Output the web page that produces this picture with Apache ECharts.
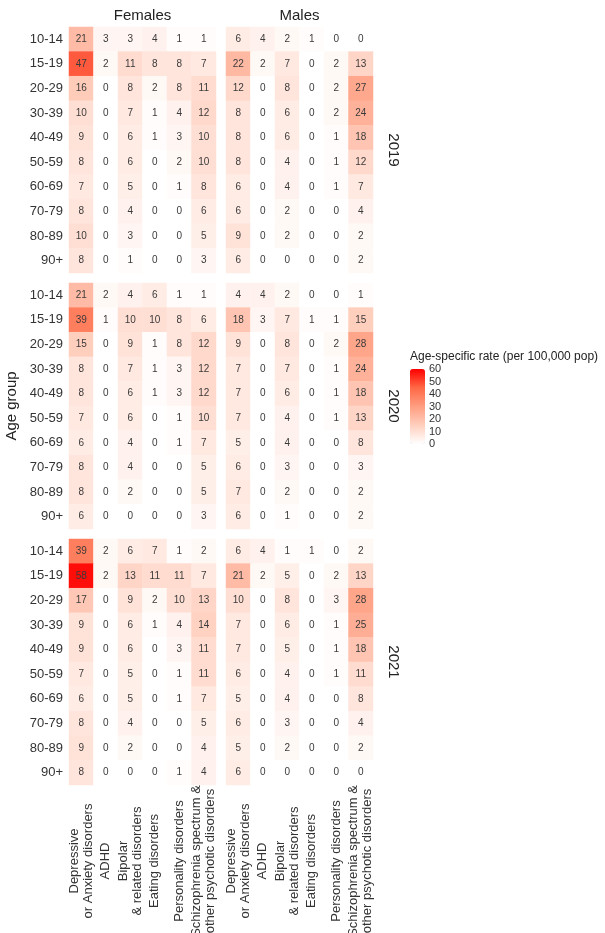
<!DOCTYPE html>
<html>
<head>
<meta charset="utf-8">
<script src="https://cdn.jsdelivr.net/npm/echarts@6/dist/echarts.min.js"></script>
<style>
  html, body { margin: 0; padding: 0; background: #fff; }
  #chart { width: 605px; height: 933px; }
</style>
</head>
<body>
<div id="chart"></div>
<script>
var ageGroups = ['10-14', '15-19', '20-29', '30-39', '40-49', '50-59', '60-69', '70-79', '80-89', '90+'];
var disorders = [
  'Depressive\nor Anxiety disorders',
  'ADHD',
  'Bipolar\n& related disorders',
  'Eating disorders',
  'Personality disorders',
  'Schizophrenia spectrum &\nother psychotic disorders'
];
var sexes = ['Females', 'Males'];
var years = ['2019', '2020', '2021'];

// one row per age group, one column per disorder
var females2019 = [
  [21, 3, 3, 4, 1, 1], [47, 2, 11, 8, 8, 7], [16, 0, 8, 2, 8, 11], [10, 0, 7, 1, 4, 12], [9, 0, 6, 1, 3, 10],
  [8, 0, 6, 0, 2, 10], [7, 0, 5, 0, 1, 8], [8, 0, 4, 0, 0, 6], [10, 0, 3, 0, 0, 5], [8, 0, 1, 0, 0, 3]
];
var males2019 = [
  [6, 4, 2, 1, 0, 0], [22, 2, 7, 0, 2, 13], [12, 0, 8, 0, 2, 27], [8, 0, 6, 0, 2, 24], [8, 0, 6, 0, 1, 18],
  [8, 0, 4, 0, 1, 12], [6, 0, 4, 0, 1, 7], [6, 0, 2, 0, 0, 4], [9, 0, 2, 0, 0, 2], [6, 0, 0, 0, 0, 2]
];
var females2020 = [
  [21, 2, 4, 6, 1, 1], [39, 1, 10, 10, 8, 6], [15, 0, 9, 1, 8, 12], [8, 0, 7, 1, 3, 12], [8, 0, 6, 1, 3, 12],
  [7, 0, 6, 0, 1, 10], [6, 0, 4, 0, 1, 7], [8, 0, 4, 0, 0, 5], [8, 0, 2, 0, 0, 5], [6, 0, 0, 0, 0, 3]
];
var males2020 = [
  [4, 4, 2, 0, 0, 1], [18, 3, 7, 1, 1, 15], [9, 0, 8, 0, 2, 28], [7, 0, 7, 0, 1, 24], [7, 0, 6, 0, 1, 18],
  [7, 0, 4, 0, 1, 13], [5, 0, 4, 0, 0, 8], [6, 0, 3, 0, 0, 3], [7, 0, 2, 0, 0, 2], [6, 0, 1, 0, 0, 2]
];
var females2021 = [
  [39, 2, 6, 7, 1, 2], [58, 2, 13, 11, 11, 7], [17, 0, 9, 2, 10, 13], [9, 0, 6, 1, 4, 14], [9, 0, 6, 0, 3, 11],
  [7, 0, 5, 0, 1, 11], [6, 0, 5, 0, 1, 7], [8, 0, 4, 0, 0, 5], [9, 0, 2, 0, 0, 4], [8, 0, 0, 0, 1, 4]
];
var males2021 = [
  [6, 4, 1, 1, 0, 2], [21, 2, 5, 0, 2, 13], [10, 0, 8, 0, 3, 28], [7, 0, 6, 0, 1, 25], [7, 0, 5, 0, 1, 18],
  [6, 0, 4, 0, 1, 11], [5, 0, 4, 0, 0, 8], [6, 0, 3, 0, 0, 4], [5, 0, 2, 0, 0, 2], [6, 0, 0, 0, 0, 0]
];

var panels = [
  [females2019, males2019],
  [females2020, males2020],
  [females2021, males2021]
];

// layout
var colLeft = [69, 226];
var panelW = 147;
var rowTop = [27, 283, 539];
var panelH = 246;
var font = 'Liberation Sans, Arial, sans-serif';
var textColor = '#333';

var myChart = echarts.init(document.getElementById('chart'));

var grids = [], xAxes = [], yAxes = [], series = [];
for (var r = 0; r < 3; r++) {
  for (var c = 0; c < 2; c++) {
    var idx = grids.length;
    grids.push({ left: colLeft[c], top: rowTop[r], width: panelW, height: panelH, outerBoundsMode: 'none' });
    xAxes.push({
      type: 'category', gridIndex: idx, data: disorders,
      axisLine: { show: false }, axisTick: { show: false }, splitLine: { show: false },
      axisLabel: {
        show: r === 2, interval: 0, rotate: 90, align: 'center', verticalAlign: 'middle',
        margin: 76, fontSize: 13, lineHeight: 14, color: textColor, fontFamily: font
      }
    });
    yAxes.push({
      type: 'category', gridIndex: idx, data: ageGroups, inverse: true,
      axisLine: { show: false }, axisTick: { show: false }, splitLine: { show: false },
      axisLabel: { show: c === 0, margin: 6, fontSize: 13, color: textColor, fontFamily: font }
    });
    var data = [];
    var vals = panels[r][c];
    for (var a = 0; a < ageGroups.length; a++) {
      for (var d = 0; d < disorders.length; d++) {
        data.push([d, a, vals[a][d]]);
      }
    }
    series.push({
      type: 'heatmap', xAxisIndex: idx, yAxisIndex: idx, data: data,
      label: { show: true, fontSize: 10, color: '#3a3a3a', fontFamily: font },
      emphasis: { disabled: true }
    });
  }
}

// legend colourbar axis
var barLeft = 410, barTop = 369, barW = 15, barH = 75;
grids.push({ left: barLeft, top: barTop, width: barW, height: barH, outerBoundsMode: 'none' });
xAxes.push({ type: 'category', gridIndex: 6, data: ['rate'], show: false });
yAxes.push({
  type: 'value', gridIndex: 6, min: 0, max: 60, interval: 10, position: 'right',
  axisLine: { show: false }, axisTick: { show: false }, splitLine: { show: false },
  axisLabel: {
    margin: 4, fontSize: 11, color: textColor, fontFamily: font,
    showMinLabel: true, showMaxLabel: true, hideOverlap: false
  }
});

var graphics = [];
sexes.forEach(function (s, c) {
  graphics.push({
    type: 'text', x: colLeft[c] + panelW / 2, y: 16,
    style: { text: s, fontSize: 15, fontFamily: font, fill: '#222', align: 'center', verticalAlign: 'middle', textAlign: 'center', textVerticalAlign: 'middle' }
  });
});
years.forEach(function (y, r) {
  graphics.push({
    type: 'text', x: colLeft[1] + panelW + 20, y: rowTop[r] + panelH / 2, rotation: -Math.PI / 2,
    style: { text: y, fontSize: 15, fontFamily: font, fill: '#222', align: 'center', verticalAlign: 'middle', textAlign: 'center', textVerticalAlign: 'middle' }
  });
});
graphics.push({
  type: 'text', x: 12, y: (rowTop[0] + rowTop[2] + panelH) / 2, rotation: Math.PI / 2,
  style: { text: 'Age group', fontSize: 15, fontFamily: font, fill: '#222', align: 'center', verticalAlign: 'middle', textAlign: 'center', textVerticalAlign: 'middle' }
});
graphics.push({
  type: 'text', x: barLeft, y: barTop - 12,
  style: { text: 'Age-specific rate (per 100,000 pop)', fontSize: 12, fontFamily: font, fill: '#222', align: 'left', verticalAlign: 'middle', textAlign: 'left', textVerticalAlign: 'middle' }
});

var option = {
  backgroundColor: '#fff',
  animation: false,
  grid: grids,
  xAxis: xAxes,
  yAxis: yAxes,
  visualMap: {
    type: 'continuous', min: 0, max: 60, seriesIndex: [0, 1, 2, 3, 4, 5],
    left: barLeft, top: barTop, itemWidth: barW, itemHeight: barH, padding: 0,
    calculable: false, hoverLink: false, text: null, showLabel: false,
    inRange: { color: ['#ffffff', '#ffcfbe', '#ff9e81', '#ff6846', '#ff0000'] }
  },
  graphic: graphics,
  series: series
};

myChart.setOption(option);
</script>
</body>
</html>
